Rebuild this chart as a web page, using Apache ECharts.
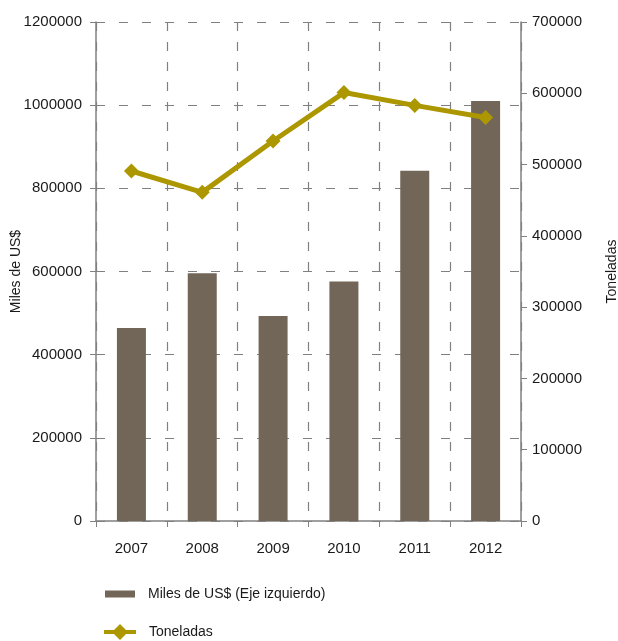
<!DOCTYPE html>
<html><head><meta charset="utf-8">
<script src="https://cdn.jsdelivr.net/npm/echarts@6/dist/echarts.min.js"></script>
<style>html,body{margin:0;padding:0;background:#fff}#c{width:618px;height:641px}</style>
</head><body><div id="c"></div>
<script>
var categories = ['2007','2008','2009','2010','2011','2012'];
var milesUSD = [464000, 596000, 493000, 576000, 842000, 1010000];
var toneladas = [491000, 461000, 533000, 601000, 583000, 566000];
var leftTicks = [0, 1200000, 200000];
var rightTicks = [0, 700000, 100000];
var barName = 'Miles de US$ (Eje izquierdo)';
var lineName = 'Toneladas';

var font = 'Liberation Sans';
var txt = '#1a1a1a';
var axisGray = '#808080';
var gold = '#ad9700';
var chart = echarts.init(document.getElementById('c'));
chart.setOption({
  animation: false,
  textStyle: {fontFamily: font},
  grid: {left: 96, right: 97, top: 22, bottom: 120, containLabel: false, outerBoundsMode: 'none'},
  legend: [
    {data: [{name: barName, icon: 'rect'}], orient: 'vertical', left: 100, top: 582, itemWidth: 30, itemHeight: 7, itemGap: 13,
     textStyle: {fontFamily: font, fontSize: 14, color: txt, padding: [0, 0, 0, 8]}},
    {data: [{name: lineName, icon: 'path://M0,6H10L16,0L22,6H32V10H22L16,16L10,10H0Z', itemStyle: {color: gold}}],
     orient: 'vertical', left: 99, top: 619, itemWidth: 32, itemHeight: 16, itemGap: 11,
     textStyle: {fontFamily: font, fontSize: 14, color: txt, padding: [0, 0, 0, 8]}}
  ],
  xAxis: {
    type: 'category', data: categories, boundaryGap: true,
    axisLine: {lineStyle: {color: axisGray, width: 1.5}},
    axisTick: {show: true, length: 6, lineStyle: {color: axisGray}},
    axisLabel: {fontSize: 15, color: txt, margin: 20, fontFamily: font},
    splitLine: {show: true, lineStyle: {color: axisGray, type: [9, 11], width: 1.2}}
  },
  yAxis: [
    {type: 'value', min: leftTicks[0], max: leftTicks[1], interval: leftTicks[2],
     name: 'Miles de US$', nameLocation: 'middle', nameGap: 73, nameRotate: 90, nameMoveOverlap: false,
     nameTextStyle: {fontSize: 14, color: txt, fontFamily: font},
     axisLine: {show: true, lineStyle: {color: axisGray, width: 1.5}},
     axisTick: {show: true, length: 6, lineStyle: {color: axisGray}},
     axisLabel: {fontSize: 15, color: txt, margin: 14, fontFamily: font, formatter: function (v) { return String(v); }},
     splitLine: {show: true, lineStyle: {color: axisGray, type: [9, 14], width: 1.2}}},
    {type: 'value', min: rightTicks[0], max: rightTicks[1], interval: rightTicks[2],
     name: 'Toneladas', nameLocation: 'middle', nameGap: 84, nameRotate: 90, nameMoveOverlap: false,
     nameTextStyle: {fontSize: 14, color: txt, fontFamily: font},
     axisLine: {show: true, lineStyle: {color: axisGray, width: 1.5}},
     axisTick: {show: true, length: 6, inside: false, lineStyle: {color: axisGray}},
     axisLabel: {fontSize: 15, color: txt, margin: 11, fontFamily: font, formatter: function (v) { return String(v); }},
     splitLine: {show: false}}
  ],
  series: [
    {name: barName, type: 'bar', data: milesUSD, yAxisIndex: 0, barWidth: 29,
     itemStyle: {color: '#726658'}},
    {name: lineName, type: 'line', data: toneladas, yAxisIndex: 1,
     symbol: 'diamond', symbolSize: 15, lineStyle: {color: gold, width: 5},
     itemStyle: {color: gold}}
  ]
});
</script></body></html>
